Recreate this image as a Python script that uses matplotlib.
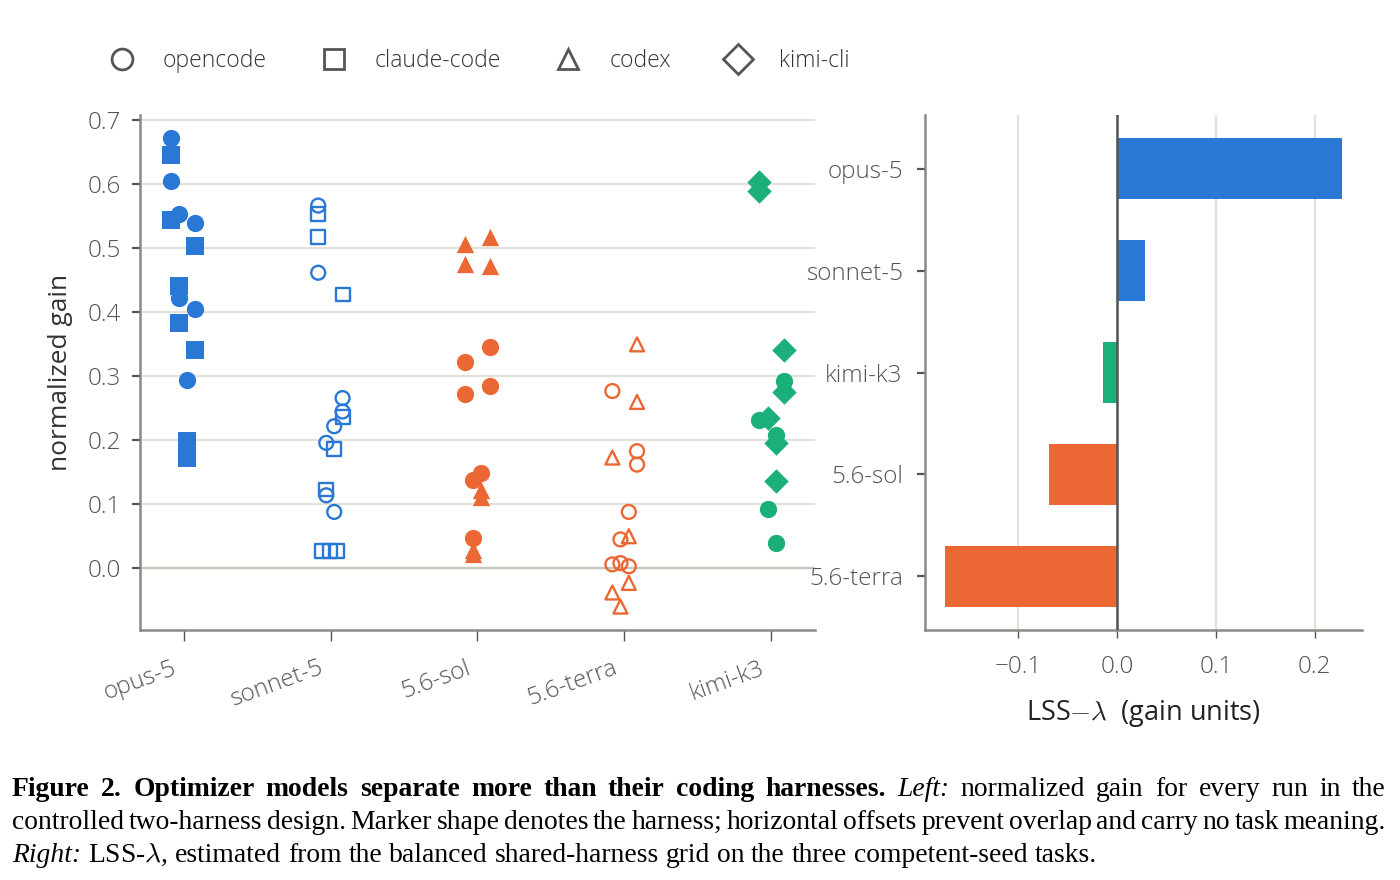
import matplotlib
matplotlib.use("Agg")
import matplotlib.pyplot as plt
import matplotlib.transforms as mtransforms
from matplotlib.lines import Line2D

plt.rcParams['font.family'] = ['Open Sans', 'DejaVu Sans']
plt.rcParams['font.weight'] = 'light'
plt.rcParams['mathtext.fontset'] = 'cm'

# modelle und harnesses
models = ["opus-5", "sonnet-5", "5.6-sol", "5.6-terra", "kimi-k3"]
harness_names = ["opencode", "claude-code", "codex", "kimi-cli"]

# normalisierter gain pro lauf + horizontaler versatz (nur gegen ueberlappung)
opus_opencode = [0.671, 0.605, 0.553, 0.538, 0.422, 0.405, 0.294]
opus_opencode_jit = [-0.088, -0.088, -0.032, 0.078, -0.032, 0.078, 0.025]
opus_claude = [0.645, 0.543, 0.503, 0.440, 0.383, 0.340, 0.198, 0.172]
opus_claude_jit = [-0.088, -0.088, 0.078, -0.032, -0.032, 0.078, 0.025, 0.025]

sonnet_opencode = [0.566, 0.461, 0.265, 0.244, 0.221, 0.195, 0.113, 0.087]
sonnet_opencode_jit = [-0.084, -0.084, 0.082, 0.082, 0.025, -0.029, -0.029, 0.025]
sonnet_claude = [0.553, 0.517, 0.427, 0.235, 0.185, 0.122, 0.026, 0.026, 0.026]
sonnet_claude_jit = [-0.084, -0.084, 0.082, 0.082, 0.025, -0.029, -0.056, -0.005, 0.046]

sol_opencode = [0.345, 0.322, 0.284, 0.271, 0.148, 0.137, 0.047]
sol_opencode_jit = [0.082, -0.082, 0.082, -0.082, 0.024, -0.029, -0.029]
sol_codex = [0.517, 0.506, 0.474, 0.472, 0.122, 0.110, 0.028, 0.022]
sol_codex_jit = [0.082, -0.082, -0.082, 0.082, 0.027, 0.027, -0.029, -0.029]

terra_opencode = [0.276, 0.182, 0.161, 0.087, 0.044, 0.005, 0.007, 0.002]
terra_opencode_jit = [-0.082, 0.086, 0.086, 0.03, -0.027, -0.082, -0.027, 0.03]
terra_codex = [0.349, 0.259, 0.172, 0.049, -0.024, -0.039, -0.061]
terra_codex_jit = [0.086, 0.086, -0.082, 0.03, 0.03, -0.082, -0.027]

kimi_opencode = [0.292, 0.230, 0.208, 0.091, 0.038]
kimi_opencode_jit = [0.088, -0.082, 0.034, -0.024, 0.034]
kimi_cli = [0.603, 0.589, 0.340, 0.274, 0.234, 0.195, 0.135]
kimi_cli_jit = [-0.082, -0.082, 0.088, 0.088, -0.024, 0.034, 0.034]

# LSS-lambda (rechtes panel)
lss_models = ["opus-5", "sonnet-5", "kimi-k3", "5.6-sol", "5.6-terra"]
lss_values = [0.2277, 0.0287, -0.0139, -0.0687, -0.1743]

blue = "#2A78D6"
orange = "#EB6834"
green = "#1BAF7A"
model_colors = [blue, blue, orange, orange, green]
model_filled = [True, False, True, False, True]
lss_colors = [blue, blue, green, orange, orange]
markers = {"opencode": "o", "claude-code": "s", "codex": "^", "kimi-cli": "D"}

runs = [
    [("opencode", opus_opencode, opus_opencode_jit), ("claude-code", opus_claude, opus_claude_jit)],
    [("opencode", sonnet_opencode, sonnet_opencode_jit), ("claude-code", sonnet_claude, sonnet_claude_jit)],
    [("opencode", sol_opencode, sol_opencode_jit), ("codex", sol_codex, sol_codex_jit)],
    [("opencode", terra_opencode, terra_opencode_jit), ("codex", terra_codex, terra_codex_jit)],
    [("opencode", kimi_opencode, kimi_opencode_jit), ("kimi-cli", kimi_cli, kimi_cli_jit)],
]

text_grey = "#555555"
spine_grey = "#8A8A86"
grid_col = "#E2E1DA"

fig = plt.figure(figsize=(14, 8.8), dpi=100)
ax1 = fig.add_axes([0.1, 0.2841, 0.4821, 0.5852])
ax2 = fig.add_axes([0.6607, 0.2841, 0.3121, 0.5852])

# linkes panel
for i, model_runs in enumerate(runs):
    col = model_colors[i]
    for h, gains, jit in model_runs:
        xs = [i + j for j in jit]
        if model_filled[i]:
            ax1.scatter(xs, gains, marker=markers[h], s=155, color=col, linewidths=0, zorder=3)
        else:
            ax1.scatter(xs, gains, marker=markers[h], s=100, facecolors="none",
                        edgecolors=col, linewidths=1.7, zorder=3)

ax1.set_xticks(range(len(models)), models)
ax1.set_yticks([0.0, 0.1, 0.2, 0.3, 0.4, 0.5, 0.6, 0.7])
ax1.yaxis.grid(True, color=grid_col, lw=1.6, zorder=0)
ax1.set_axisbelow(True)
ax1.axhline(0, color="#C6C6BA", lw=1.6, zorder=1)
ax1.set_ylabel("normalized gain", fontsize=19, color="#333333", labelpad=10)
ax1.tick_params(axis="x", length=8, width=1, colors=text_grey, labelsize=17.5, pad=11)
ax1.tick_params(axis="y", length=6, width=1.6, colors=text_grey, labelsize=17.5, pad=8)
shift = mtransforms.ScaledTranslation(-12 / 100, 0, fig.dpi_scale_trans)
for lab in ax1.get_xticklabels():
    lab.set_rotation(20)
    lab.set_ha("right")
    lab.set_rotation_mode("anchor")
    lab.set_transform(lab.get_transform() + shift)

# rechtes panel
ypos = list(range(len(lss_models)))
ax2.barh(ypos, lss_values, height=0.6, color=lss_colors, zorder=3)
ax2.invert_yaxis()
ax2.set_yticks(ypos, lss_models)
ax2.set_xticks([-0.1, 0.0, 0.1, 0.2])
ax2.xaxis.grid(True, color=grid_col, lw=1.6, zorder=0)
ax2.set_axisbelow(True)
ax2.axvline(0, color="#555555", lw=1.8, zorder=4)
ax2.set_xlabel(r"LSS$-\lambda$  (gain units)", fontsize=19.5, color="#222222", labelpad=14)
ax2.tick_params(axis="y", length=6, width=1.6, colors=text_grey, labelsize=17.5, pad=10)
ax2.tick_params(axis="x", length=6, width=1, colors=text_grey, labelsize=17.5, pad=12)

for ax in (ax1, ax2):
    for side in ("top", "right"):
        ax.spines[side].set_visible(False)
    for side in ("left", "bottom"):
        ax.spines[side].set_color(spine_grey)
        ax.spines[side].set_linewidth(1.8)

# legende
handles = [Line2D([], [], marker=markers[h], linestyle="None", markersize=15,
                  markerfacecolor="none", markeredgecolor="#555555", markeredgewidth=2)
           for h in harness_names]
leg = fig.legend(handles, harness_names, loc="center left", bbox_to_anchor=(0.0789, 0.931),
                 ncol=4, frameon=False, fontsize=16.5, handlelength=1.0, handletextpad=1.29,
                 columnspacing=2.42, borderpad=0, borderaxespad=0)
for t in leg.get_texts():
    t.set_color("#333333")

# bildunterschrift (blocksatz)
cap_size = 19.9
styles = {"b": dict(weight="bold", style="normal"),
          "i": dict(weight="normal", style="italic"),
          "r": dict(weight="normal", style="normal")}
caption_lines = [
    ([("Figure 2.  Optimizer models separate more than their coding harnesses.", "b"),
      ("Left:", "i"), ("normalized gain for every run in the", "r")], 796, True),
    ([("controlled two-harness design. Marker shape denotes the harness; horizontal "
       "offsets prevent overlap and carry no task meaning.", "r")], 829, True),
    ([("Right:", "i"), (r"LSS-$\lambda$, estimated from the balanced shared-harness grid "
                        "on the three competent-seed tasks.", "r")], 862, False),
]

W, H = 1400, 880
left_px, right_px = 12, 1386
renderer = fig.canvas.get_renderer()
probe = fig.text(0, 0, "x x", fontsize=cap_size, family="Liberation Serif", weight="normal")
probe2 = fig.text(0, 0, "xx", fontsize=cap_size, family="Liberation Serif", weight="normal")
space_w = probe.get_window_extent(renderer).width - probe2.get_window_extent(renderer).width
probe.remove()
probe2.remove()

for tokens, base_y, justify in caption_lines:
    words = []
    for txt, st in tokens:
        for w in txt.split():
            words.append((w, st))
    arts = [fig.text(0, 1 - base_y / H, w, fontsize=cap_size, family="Liberation Serif",
                     color="black", va="baseline", **styles[st]) for w, st in words]
    widths = [a.get_window_extent(renderer).width for a in arts]
    if justify:
        gap = (right_px - left_px - sum(widths)) / (len(words) - 1)
    else:
        gap = space_w
    x = left_px
    for a, w in zip(arts, widths):
        a.set_x(x / W)
        x += w + gap

fig.savefig("out.png", dpi=100)
